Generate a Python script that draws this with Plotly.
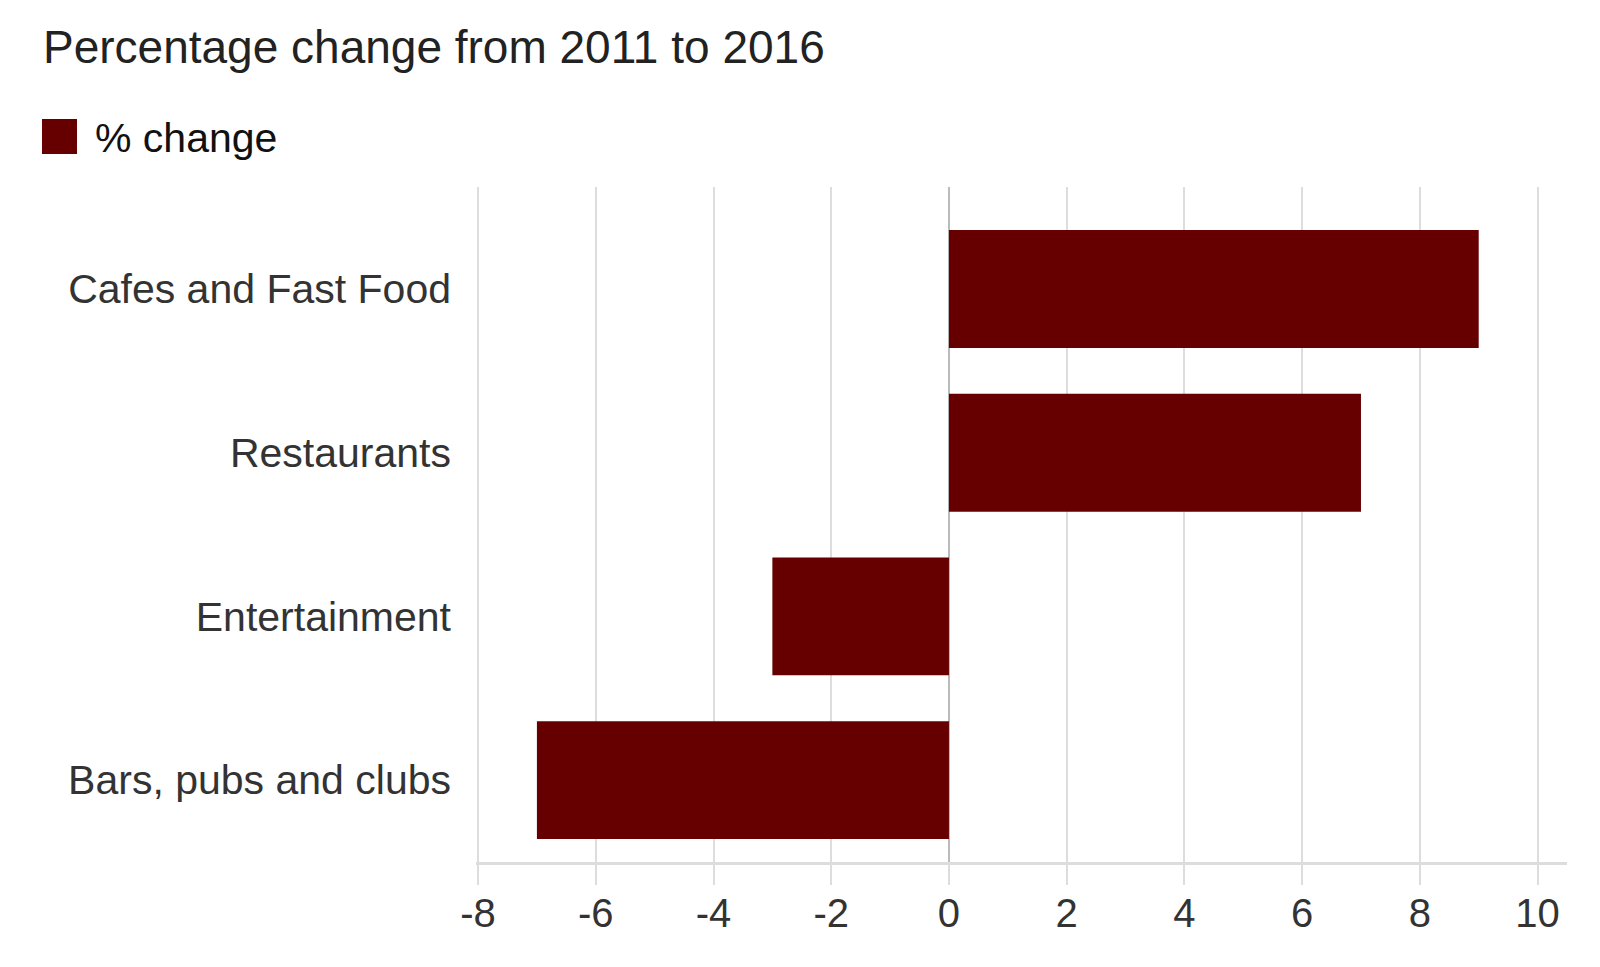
import plotly.graph_objects as go

categories = ["Bars, pubs and clubs", "Entertainment", "Restaurants", "Cafes and Fast Food"]
pct_change = [-7, -3, 7, 9]
x_ticks = [-8, -6, -4, -2, 0, 2, 4, 6, 8, 10]
series_name = "% change"
title_text = "Percentage change from 2011 to 2016"

BAR = "#660000"
FONT = "Liberation Sans, Arial, Helvetica, sans-serif"

# plot area in figure pixels (page has 8px body margin)
L, T, W, H = 468, 179, 1091, 675

def px(x):
    return (x - 8 - L) / W

def py(y):
    return (T + H - (y - 8)) / H

fig = go.Figure()
fig.add_trace(go.Bar(
    y=categories, x=pct_change, orientation="h", name=series_name,
    marker=dict(color=BAR, line=dict(width=0)), showlegend=False,
))

fig.update_layout(
    width=1600, height=967,
    margin=dict(l=L, r=1600 - L - W, t=T, b=967 - T - H),
    paper_bgcolor="white", plot_bgcolor="white",
    bargap=0.28,
    font=dict(family=FONT, size=41, color="#333333"),
    showlegend=False,
    xaxis=dict(
        range=[-8.035, 10.5], tickvals=x_ticks, ticktext=[str(v) for v in x_ticks],
        showgrid=True, gridcolor="#dddddd", gridwidth=1.5,
        zeroline=True, zerolinecolor="#bbbbbb", zerolinewidth=1.5,
        showline=True, linecolor="#dddddd", linewidth=2.5,
        ticks="outside", ticklen=20, tickcolor="#dddddd", tickwidth=1.5,
        tickfont=dict(size=40, color="#333333"),
        ticklabelstandoff=-6,
    ),
    yaxis=dict(
        range=[-0.5, 3.623], showgrid=False, zeroline=False, showline=False,
        ticks="", tickfont=dict(size=41, color="#333333"),
        ticklabelstandoff=24,
    ),
    shapes=[dict(type="rect", xref="paper", yref="paper",
                 x0=px(42), x1=px(77),
                 y0=py(154), y1=py(119),
                 fillcolor=BAR, line=dict(width=0))],
    annotations=[
        dict(text=title_text, xref="paper", yref="paper",
             x=px(41), y=py(47), xanchor="left", yanchor="middle",
             showarrow=False, font=dict(size=46, color="#222222", family=FONT)),
        dict(text=series_name, xref="paper", yref="paper",
             x=px(93), y=py(138), xanchor="left", yanchor="middle",
             showarrow=False, font=dict(size=41, color="#111111", family=FONT)),
    ],
)

fig.write_html("out.html")
